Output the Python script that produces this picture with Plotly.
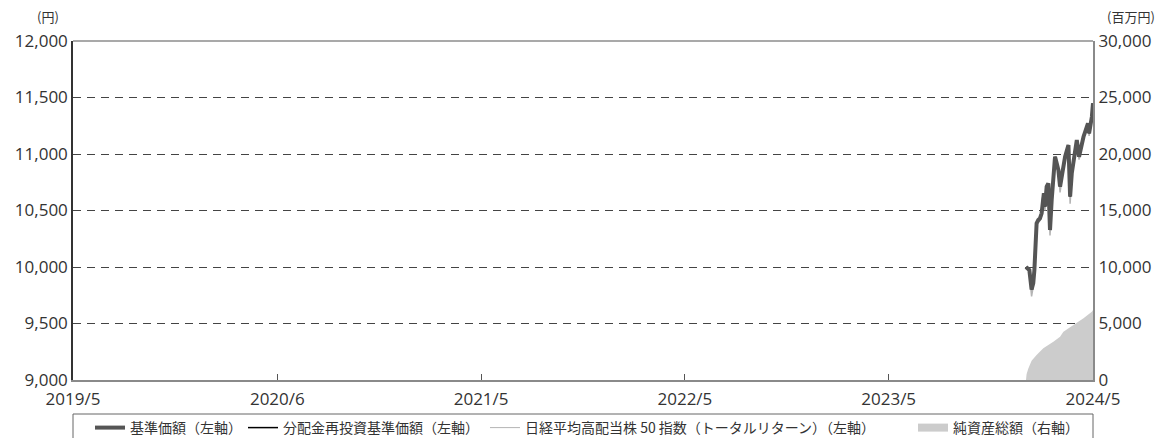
import plotly.graph_objects as go

# ---- data ----
price_dates = ["2024-02-01","2024-02-07","2024-02-11","2024-02-14","2024-02-16","2024-02-19","2024-02-20",
               "2024-02-23","2024-02-26","2024-02-29","2024-03-02","2024-03-04","2024-03-06","2024-03-09",
               "2024-03-12","2024-03-15","2024-03-18","2024-03-21","2024-03-24","2024-03-27","2024-03-30",
               "2024-04-02","2024-04-05","2024-04-08","2024-04-11","2024-04-17","2024-04-20","2024-04-23",
               "2024-04-29","2024-05-02","2024-05-06","2024-05-11","2024-05-14","2024-05-18","2024-05-22",
               "2024-05-24","2024-05-29","2024-05-31"]
base_price = [10000, 9973, 9800, 9858, 9973, 10268, 10387,
              10416, 10431, 10475, 10622, 10652, 10534, 10711,
              10741, 10327, 10593, 10799, 10976, 10918, 10858,
              10711, 10800, 10888, 10976, 11080, 10622, 10829,
              11035, 11124, 10976, 11095, 11153, 11212, 11272,
              11183, 11330, 11449]
reinvest_price = list(base_price)
index_tr = [10000, 9950, 9740, 9830, 9960, 10250, 10370,
            10400, 10410, 10460, 10610, 10640, 10500, 10700,
            10730, 10280, 10570, 10790, 10970, 10900, 10840,
            10660, 10780, 10870, 10960, 11070, 10560, 10810,
            11020, 11110, 10950, 11080, 11140, 11200, 11260,
            11160, 11320, 11440]

nav_dates = ["2024-02-01","2024-02-02","2024-02-05","2024-02-11","2024-02-20","2024-03-03","2024-03-21",
             "2024-04-02","2024-04-08","2024-04-26","2024-05-14","2024-05-29","2024-05-31"]
nav_total = [0, 500, 1000, 1700, 2210, 2800, 3390, 3835, 4275, 4870, 5460, 6045, 6190]

x_tickvals = ["2019-05-31","2020-05-31","2021-05-31","2022-05-31","2023-05-31","2024-05-31"]
x_ticktext = ["2019/5","2020/6","2021/5","2022/5","2023/5","2024/5"]
y_ticks = [9000, 9500, 10000, 10500, 11000, 11500, 12000]
y2_ticks = [0, 5000, 10000, 15000, 20000, 25000, 30000]

legend_names = ["基準価額（左軸）", "分配金再投資基準価額（左軸）",
                "日経平均高配当株 50 指数（トータルリターン）（左軸）", "純資産総額（右軸）"]

FONT = "Noto Sans CJK JP"
NUMFONT = "Open Sans"

fig = go.Figure()

# NAV area (right axis)
fig.add_trace(go.Scatter(x=nav_dates, y=nav_total, yaxis="y2", mode="lines",
                         line=dict(width=0, color="#cccccc"), fill="tozeroy",
                         fillcolor="#cccccc", showlegend=False, hoverinfo="skip"))
# Index
fig.add_trace(go.Scatter(x=price_dates, y=index_tr, mode="lines",
                         line=dict(color="#b4b4b4", width=1.5), showlegend=False))
# reinvest
fig.add_trace(go.Scatter(x=price_dates, y=reinvest_price, mode="lines",
                         line=dict(color="#000000", width=1.5), showlegend=False))
# base price
fig.add_trace(go.Scatter(x=price_dates, y=base_price, mode="lines",
                         line=dict(color="#555555", width=4), showlegend=False))

# legend entries (one legend per entry for exact placement)
leg_styles = [dict(color="#555555", width=4), dict(color="#000000", width=1.5),
              dict(color="#b4b4b4", width=1), dict(color="#cccccc", width=8)]
leg_ids = ["legend", "legend2", "legend3", "legend4"]
for name, st, lid in zip(legend_names, leg_styles, leg_ids):
    fig.add_trace(go.Scatter(x=[None], y=[None], mode="lines", line=st, name=name, legend=lid))

leg_x = [0.01667, 0.16667, 0.40392, 0.82353]
leg_common = dict(orientation="h", y=-0.1416, yanchor="middle", xanchor="left",
                  borderwidth=0, bgcolor="rgba(0,0,0,0)",
                  font=dict(family=FONT, size=14, color="#333333"), itemwidth=30)

fig.update_layout(
    width=1165, height=438,
    margin=dict(l=73, r=72, t=41, b=58, autoexpand=False),
    paper_bgcolor="white", plot_bgcolor="white",
    font=dict(family=FONT, color="#333333", size=15),
    xaxis=dict(type="date", range=["2019-05-31", "2024-05-31"],
               tickvals=x_tickvals, ticktext=x_ticktext,
               showgrid=False, zeroline=False,
               showline=True, linecolor="#8a8a8a", linewidth=2,
               ticks="inside", ticklen=6, tickcolor="#555555", tickwidth=1,
               ticklabelstandoff=3,
               tickfont=dict(family=NUMFONT, size=17, color="#333333")),
    yaxis=dict(range=[9000, 12000], tickvals=y_ticks, tickformat=",",
               showgrid=True, gridcolor="#444444", gridwidth=1, griddash="8px,6px",
               zeroline=False, showline=True, linecolor="#333333", linewidth=1.5,
               ticks="", tickfont=dict(family=NUMFONT, size=17, color="#333333")),
    yaxis2=dict(range=[0, 30000], tickvals=y2_ticks, tickformat=",", overlaying="y", side="right",
                showgrid=False, zeroline=False, showline=True, linecolor="#8a8a8a", linewidth=2,
                ticks="", tickfont=dict(family=NUMFONT, size=17, color="#333333")),
    legend=dict(x=leg_x[0], **leg_common),
    legend2=dict(x=leg_x[1], **leg_common),
    legend3=dict(x=leg_x[2], **leg_common),
    legend4=dict(x=leg_x[3], **leg_common),
    annotations=[
        dict(text="(円)", xref="paper", yref="paper", x=-0.025, y=1.0, yshift=13,
             xanchor="center", yanchor="bottom", showarrow=False, font=dict(size=13)),
        dict(text="(百万円)", xref="paper", yref="paper", x=1.037, y=1.0, yshift=13,
             xanchor="center", yanchor="bottom", showarrow=False, font=dict(size=13)),
    ],
    shapes=[
        dict(type="line", xref="paper", yref="paper", x0=0, x1=1, y0=1, y1=1,
             line=dict(color="#555555", width=1.2)),
        dict(type="rect", xref="paper", yref="paper", x0=0, x1=1, y0=-0.1003, y1=-0.25,
             line=dict(color="#666666", width=1), fillcolor="rgba(0,0,0,0)", layer="above"),
    ],
)

fig.write_html("out.html", config={"displayModeBar": False},
               post_script="document.body.style.margin='0';document.body.style.padding='0';")
